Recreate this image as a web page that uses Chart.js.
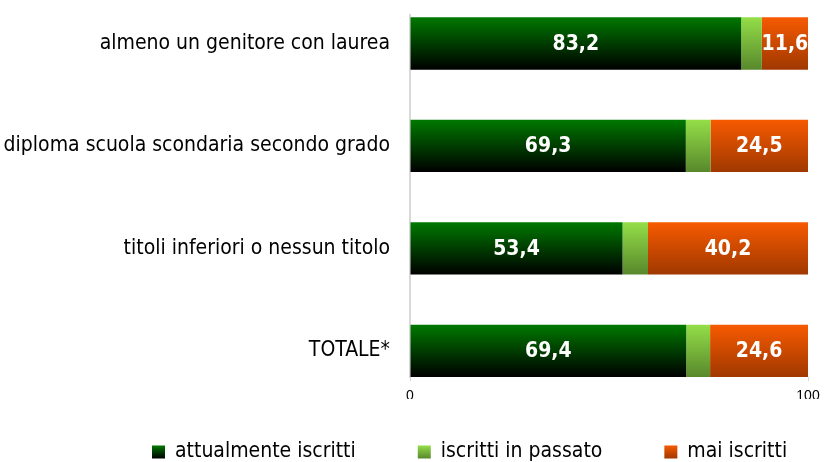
<!DOCTYPE html>
<html>
<head>
<meta charset="utf-8">
<script src="https://cdn.jsdelivr.net/npm/chart.js@4"></script>
<style>
  html, body { margin: 0; padding: 0; background: #fff; }
  #wrap { width: 824px; height: 462px; }
</style>
</head>
<body>
<div id="wrap"><canvas id="myChart"></canvas></div>
<script>
// dati
const categorie = [
  'almeno un genitore con laurea',
  'diploma scuola scondaria secondo grado',
  'titoli inferiori o nessun titolo',
  'TOTALE*'
];
const attualmenteIscritti = [83.2, 69.3, 53.4, 69.4];
const iscrittiInPassato = [5.2, 6.2, 6.4, 6.0];
const maiIscritti = [11.6, 24.5, 40.2, 24.6];
const tickX = [0, 100];

const FONT = '"DejaVu Sans Condensed", "DejaVu Sans", sans-serif';

// colori: [alto, basso] del gradiente
const colori = [
  ['#007800', '#000000'],
  ['#94de48', '#58882c'],
  ['#f65a00', '#a03800'],
];

// gradiente verticale per ogni barra
function barGradient(top, bottom) {
  return function (c) {
    const chart = c.chart;
    const yScale = chart.scales.y;
    if (!chart.chartArea || !yScale || c.dataIndex === undefined) return bottom;
    const yc = yScale.getPixelForValue(c.dataIndex);
    const half = 26;
    const g = chart.ctx.createLinearGradient(0, yc - half, 0, yc + half);
    g.addColorStop(0, top);
    g.addColorStop(1, bottom);
    return g;
  };
}

function toPoints(arr) {
  return arr.map((v, i) => ({ x: v, y: i }));
}

// etichette valori dentro le barre
const valueLabels = {
  id: 'valueLabels',
  afterDatasetsDraw(chart) {
    const ctx = chart.ctx;
    ctx.save();
    ctx.font = 'bold 21px ' + FONT;
    ctx.fillStyle = '#ffffff';
    ctx.textAlign = 'center';
    ctx.textBaseline = 'middle';
    [0, 2].forEach((di) => {
      chart.getDatasetMeta(di).data.forEach((bar, i) => {
        const v = chart.data.datasets[di].data[i].x;
        ctx.fillText(v.toFixed(1).replace('.', ','), (bar.x + bar.base) / 2, bar.y + 1);
      });
    });
    ctx.restore();
  }
};

// legenda in basso, disegnata a mano
const legendaBasso = {
  id: 'legendaBasso',
  afterDraw(chart) {
    const ctx = chart.ctx;
    const labels = chart.data.datasets.map((d) => d.label);
    const box = 13;
    const gapBox = 10;
    const gapItem = 62;
    ctx.save();
    ctx.font = '21px ' + FONT;
    let x = 152;
    const y = chart.height - 10;
    labels.forEach((t, i) => {
      const g = ctx.createLinearGradient(0, y - box / 2, 0, y + box / 2);
      g.addColorStop(0, colori[i][0]);
      g.addColorStop(1, colori[i][1]);
      ctx.fillStyle = g;
      ctx.fillRect(x, y - box / 2, box, box);
      ctx.fillStyle = '#000';
      ctx.textBaseline = 'middle';
      ctx.textAlign = 'left';
      ctx.fillText(t, x + box + gapBox, y);
      x += box + gapBox + ctx.measureText(t).width + gapItem;
    });
    ctx.restore();
  }
};

const ctx = document.querySelector('#myChart');
new Chart(ctx, {
  type: 'bar',
  data: {
    datasets: [
      {
        label: 'attualmente iscritti',
        data: toPoints(attualmenteIscritti),
        backgroundColor: barGradient(colori[0][0], colori[0][1]),
      },
      {
        label: 'iscritti in passato',
        data: toPoints(iscrittiInPassato),
        backgroundColor: barGradient(colori[1][0], colori[1][1]),
      },
      {
        label: 'mai iscritti',
        data: toPoints(maiIscritti),
        backgroundColor: barGradient(colori[2][0], colori[2][1]),
      },
    ],
  },
  options: {
    indexAxis: 'y',
    responsive: true,
    maintainAspectRatio: false,
    animation: false,
    categoryPercentage: 1,
    barPercentage: 0.51,
    layout: { padding: { top: 15, left: 0, right: 16, bottom: 63 } },
    scales: {
      x: {
        type: 'linear',
        stacked: true,
        min: 0,
        max: 100,
        afterBuildTicks: (axis) => {
          axis.ticks = tickX.map((v) => ({ value: v }));
        },
        afterFit: (axis) => {
          axis.height = 22;
          axis.paddingLeft = 0;
          axis.paddingRight = 0;
        },
        grid: {
          drawOnChartArea: false,
          drawTicks: true,
          tickLength: 4,
          color: '#d9d9d9',
        },
        border: { display: false },
        ticks: {
          color: '#000',
          padding: 7,
          maxRotation: 0,
          font: { family: '"Liberation Sans", Arial, sans-serif', size: 14 },
        },
      },
      y: {
        type: 'linear',
        stacked: true,
        reverse: true,
        offset: false,
        min: -0.278,
        max: 3.254,
        afterBuildTicks: (axis) => {
          axis.ticks = categorie.map((c, i) => ({ value: i }));
        },
        afterFit: (axis) => {
          axis.width = 410;
          axis.paddingTop = 0;
          axis.paddingBottom = 0;
        },
        grid: { display: false },
        border: { display: true, color: '#d9d9d9', width: 2 },
        ticks: {
          color: '#000',
          padding: 12,
          font: { family: FONT, size: 21 },
          callback: (v) => categorie[v],
        },
      },
    },
    plugins: {
      tooltip: { enabled: false },
      legend: { display: false },
    },
  },
  plugins: [valueLabels, legendaBasso],
});
</script>
</body>
</html>
